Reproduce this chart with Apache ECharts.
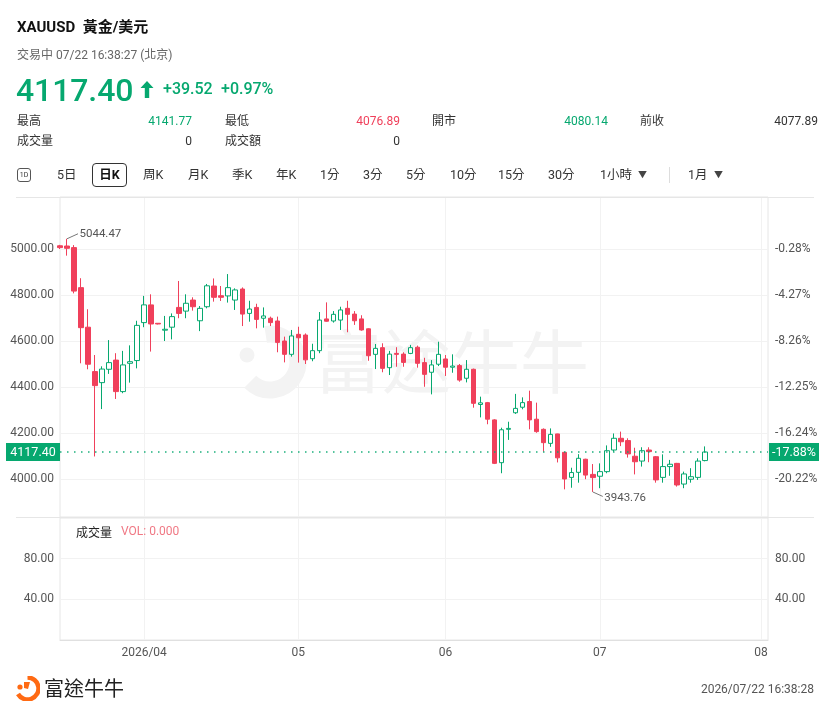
<!DOCTYPE html>
<html>
<head>
<meta charset="utf-8">
<script src="https://cdn.jsdelivr.net/npm/echarts@6/dist/echarts.min.js"></script>
<style>
html,body{margin:0;padding:0;background:#fff;}
body{width:830px;height:715px;position:relative;overflow:hidden;font-family:Roboto,"Noto Sans CJK TC",sans-serif;color:#222;}
#chart{position:absolute;left:0;top:0;width:830px;height:715px;}
.a{position:absolute;white-space:nowrap;line-height:1;}
.g{color:#06a86f;}
.r{color:#f0405b;}
.lab{font-size:12px;color:#333;}
.num{font-size:12px;}
.tab{font-size:12.5px;color:#333;top:169px;}
</style>
</head>
<body>
<div id="chart"></div>

<div class="a" style="left:17px;top:20px;font-size:15px;font-weight:700;color:#111">XAUUSD&nbsp; 黃金/美元</div>
<div class="a" style="left:17px;top:49px;font-size:12px;color:#666">交易中 07/22 16:38:27 (北京)</div>
<div class="a g" style="left:16px;top:74px;font-size:32px;font-weight:500;letter-spacing:-0.1px">4117.40</div>
<svg class="a" style="left:140px;top:81px" width="14" height="17" viewBox="0 0 14 17"><path d="M7 0 L13.5 7 L9.2 7 L9.2 17 L4.8 17 L4.8 7 L0.5 7 Z" fill="#06a86f"/></svg>
<div class="a g" style="left:163px;top:81px;font-size:16px;font-weight:500">+39.52</div>
<div class="a g" style="left:221px;top:81px;font-size:16px;font-weight:500">+0.97%</div>

<div class="a lab" style="left:17px;top:115px">最高</div>
<div class="a num g" style="right:638px;top:115px">4141.77</div>
<div class="a lab" style="left:225px;top:115px">最低</div>
<div class="a num r" style="right:430px;top:115px">4076.89</div>
<div class="a lab" style="left:432px;top:115px">開市</div>
<div class="a num g" style="right:222px;top:115px">4080.14</div>
<div class="a lab" style="left:640px;top:115px">前收</div>
<div class="a num" style="right:12px;top:115px;color:#333">4077.89</div>
<div class="a lab" style="left:17px;top:135px">成交量</div>
<div class="a num" style="right:638px;top:135px;color:#333">0</div>
<div class="a lab" style="left:225px;top:135px">成交額</div>
<div class="a num" style="right:430px;top:135px;color:#333">0</div>

<div class="a" style="left:17px;top:168px;width:12px;height:12px;border:1px solid #555;border-radius:3px;font-size:7px;line-height:12px;text-align:center;color:#333">1D</div>
<div class="a tab" style="left:57px">5日</div>
<div class="a" style="left:92px;top:163px;width:33px;height:22px;border:1px solid #333;border-radius:4px;font-size:12.5px;font-weight:700;line-height:22px;text-align:center;color:#111">日K</div>
<div class="a tab" style="left:143px">周K</div>
<div class="a tab" style="left:188px">月K</div>
<div class="a tab" style="left:232px">季K</div>
<div class="a tab" style="left:276px">年K</div>
<div class="a tab" style="left:320px">1分</div>
<div class="a tab" style="left:363px">3分</div>
<div class="a tab" style="left:406px">5分</div>
<div class="a tab" style="left:450px">10分</div>
<div class="a tab" style="left:498px">15分</div>
<div class="a tab" style="left:548px">30分</div>
<div class="a tab" style="left:600px">1小時</div>
<div class="a" style="left:638px;top:171px;font-size:9px;color:#444">▼</div>
<div class="a" style="left:669px;top:167px;width:1px;height:16px;background:#ddd"></div>
<div class="a tab" style="left:688px">1月</div>
<div class="a" style="left:714px;top:171px;font-size:9px;color:#444">▼</div>

<svg class="a" style="left:15px;top:676px" width="25" height="25" viewBox="0 0 25 25">
  <path d="M12.5 1.5 A11 11 0 1 1 3 18" fill="none" stroke="#ff6a13" stroke-width="4.5"/>
  <path d="M9 6 L15 6 L13 13 L9 12 Z" fill="#ff6a13"/>
  <circle cx="5" cy="11" r="2.6" fill="#ff6a13"/>
</svg>
<div class="a" style="left:44px;top:678px;font-size:20px;color:#222;font-family:'Noto Sans CJK TC',sans-serif">富途牛牛</div>
<div class="a" style="right:16px;top:683px;font-size:12px;color:#555">2026/07/22 16:38:28</div>

<script>
// ---------- data ----------
const categories = [
  '2026/03/16','2026/03/17','2026/03/18','2026/03/19','2026/03/20','2026/03/23','2026/03/24','2026/03/25','2026/03/26','2026/03/27','2026/03/30','2026/03/31',
  '2026/04/01','2026/04/02','2026/04/03','2026/04/06','2026/04/07','2026/04/08','2026/04/09','2026/04/10','2026/04/13','2026/04/14','2026/04/15','2026/04/16','2026/04/17','2026/04/20','2026/04/21','2026/04/22','2026/04/23','2026/04/24','2026/04/27','2026/04/28','2026/04/29','2026/04/30',
  '2026/05/01','2026/05/04','2026/05/05','2026/05/06','2026/05/07','2026/05/08','2026/05/11','2026/05/12','2026/05/13','2026/05/14','2026/05/15','2026/05/18','2026/05/19','2026/05/20','2026/05/21','2026/05/22','2026/05/25','2026/05/26','2026/05/27','2026/05/28','2026/05/29',
  '2026/06/01','2026/06/02','2026/06/03','2026/06/04','2026/06/05','2026/06/08','2026/06/09','2026/06/10','2026/06/11','2026/06/12','2026/06/15','2026/06/16','2026/06/17','2026/06/18','2026/06/19','2026/06/22','2026/06/23','2026/06/24','2026/06/25','2026/06/26','2026/06/29','2026/06/30',
  '2026/07/01','2026/07/02','2026/07/03','2026/07/06','2026/07/07','2026/07/08','2026/07/09','2026/07/10','2026/07/13','2026/07/14','2026/07/15','2026/07/16','2026/07/17','2026/07/20','2026/07/21','2026/07/22','2026/07/23','2026/07/24','2026/07/27','2026/07/28','2026/07/29','2026/07/30','2026/07/31',
  '2026/08/03','2026/08/04'
];
const opens = [
  5014,5013,5006,4832,4660,4467,4419,4477,4517,4380,4503,4515,
  4680,4757,4677,4647,4660,4746,4730,4778,4688,4749,4839,4797,4796,4778,4826,4720,4746,4699,4699,4687,4600,4542,
  4629,4626,4523,4558,4696,4687,4691,4742,4717,4696,4653,4542,4571,4484,4546,4543,4546,4573,4506,4464,4499,
  4522,4486,4493,4438,4477,4324,4332,4257,4071,4216,4288,4312,4337,4260,4216,4155,4196,4116,4007,4029,4086,4020,
  4012,4032,4126,4177,4167,4099,4078,4126,4097,4007,4054,4068,3978,3999,4007,4080.14
];
const closes = [
  5006,5003,4817,4658,4499,4406,4478,4506,4380,4496,4510,4668,
  4757,4674,4674,4651,4706,4720,4764,4749,4742,4840,4790,4790,4832,4822,4717,4739,4694,4709,4680,4594,4542,4622,
  4614,4518,4558,4691,4686,4716,4735,4716,4688,4648,4536,4568,4481,4543,4542,4507,4571,4503,4455,4496,4542,
  4486,4491,4430,4477,4329,4331,4260,4068,4214,4220,4307,4332,4257,4206,4158,4194,4092,4000,4028,4090,4017,4006,
  4032,4123,4177,4162,4109,4075,4123,4119,3996,4054,4064,3974,4022,4010,4077.89,4117.40
];
const lows = [
  5000,4971,4807,4503,4477,4098,4304,4457,4348,4373,4419,4481,
  4660,4554,4672,4600,4607,4699,4699,4732,4643,4742,4771,4774,4767,4735,4665,4684,4655,4658,4665,4551,4507,4532,
  4506,4500,4512,4547,4684,4680,4648,4638,4670,4645,4514,4478,4464,4452,4488,4488,4543,4484,4401,4368,4491,
  4448,4462,4423,4420,4310,4268,4238,4065,4025,4170,4283,4303,4216,4201,4119,4140,4072,3955,3962,3984,3999,3943.76,
  3960,4025,4119,4143,4093,4020,4054,4073,3984,3984,4014,3967,3960,3984,3996,4076.89
];
const highs = [
  5018,5044.47,5017,4873,4738,4539,4490,4604,4547,4557,4581,4688,
  4796,4803,4678,4709,4720,4861,4803,4790,4752,4848,4872,4839,4891,4829,4833,4775,4762,4746,4706,4706,4619,4648,
  4662,4633,4588,4726,4768,4730,4749,4775,4730,4712,4655,4587,4590,4557,4573,4551,4583,4580,4527,4517,4597,
  4539,4542,4500,4517,4480,4358,4335,4260,4223,4249,4370,4355,4384,4332,4220,4220,4197,4118,4049,4108,4088,4065,
  4068,4146,4198,4206,4177,4136,4138,4138,4100,4107,4083,4070,4032,4047,4090,4141.77
];
const volumes = opens.map(() => 0);
const priceTicks = [4000, 4200, 4400, 4600, 4800, 5000];
const volumeTicks = [40, 80];
const monthLabels = {'2026/04/01':'2026/04','2026/05/01':'05','2026/06/01':'06','2026/07/01':'07','2026/08/03':'08'};
const basePrice = 5014.04;
const lastPrice = 4117.40;
const highMark = {index: 1, value: 5044.47};
const lowMark = {index: 76, value: 3943.76};

// ---------- styles ----------
const GREEN = '#06a86f', RED = '#f0405b';
const GRID_LINE = '#f2f2f2', BORDER = '#e6e6e6', LABEL = '#555';

const candleData = opens.map((o, i) => [o, closes[i], lows[i], highs[i]]);
const isMonth = (idx, v) => monthLabels[v] !== undefined;
const yLabel = {color: LABEL, fontSize: 12, fontFamily: 'Roboto', padding: [3, 0, 0, 0]};

const chart = echarts.init(document.getElementById('chart'), null, {renderer: 'canvas'});
const option = {
  animation: false,
  backgroundColor: 'transparent',
  grid: [
    {left: 60, right: 62, top: 197, height: 320, show: true, borderColor: BORDER, borderWidth: 1, outerBoundsMode: 'none'},
    {left: 60, right: 62, top: 518, height: 122, show: true, borderColor: BORDER, borderWidth: 1, outerBoundsMode: 'none'}
  ],
  xAxis: [
    {type: 'category', gridIndex: 0, data: categories, boundaryGap: false,
     axisLine: {show: false}, axisTick: {show: false}, axisLabel: {show: false},
     splitLine: {show: true, interval: isMonth, lineStyle: {color: GRID_LINE, width: 1}}},
    {type: 'category', gridIndex: 1, data: categories, boundaryGap: false,
     axisLine: {show: true, lineStyle: {color: '#e0e0e0'}}, axisTick: {show: false},
     axisLabel: {show: true, interval: isMonth, formatter: v => monthLabels[v] || '', color: LABEL, fontSize: 12, margin: 7, fontFamily: 'Roboto'},
     splitLine: {show: true, interval: isMonth, lineStyle: {color: GRID_LINE, width: 1}}}
  ],
  yAxis: [
    {type: 'value', gridIndex: 0, position: 'left', min: 3834.78, max: 5226.09, scale: true,
     axisLine: {show: false}, axisTick: {show: false, customValues: priceTicks},
     axisLabel: Object.assign({customValues: priceTicks, formatter: v => v.toFixed(2), margin: 6}, yLabel),
     splitLine: {show: true, lineStyle: {color: GRID_LINE, width: 1}}},
    {type: 'value', gridIndex: 0, position: 'right', min: 3834.78, max: 5226.09, scale: true,
     axisLine: {show: false}, axisTick: {show: false, customValues: priceTicks},
     axisLabel: Object.assign({customValues: priceTicks, formatter: v => ((v / basePrice - 1) * 100).toFixed(2) + '%', margin: 7}, yLabel),
     splitLine: {show: false}},
    {type: 'value', gridIndex: 1, position: 'left', min: 0, max: 120,
     axisLine: {show: false}, axisTick: {show: false, customValues: volumeTicks},
     axisLabel: Object.assign({customValues: volumeTicks, formatter: v => v.toFixed(2), margin: 6}, yLabel),
     splitLine: {show: true, lineStyle: {color: GRID_LINE, width: 1}}},
    {type: 'value', gridIndex: 1, position: 'right', min: 0, max: 120,
     axisLine: {show: false}, axisTick: {show: false, customValues: volumeTicks},
     axisLabel: Object.assign({customValues: volumeTicks, formatter: v => v.toFixed(2), margin: 7}, yLabel),
     splitLine: {show: false}}
  ],
  series: [
    {type: 'candlestick', name: 'XAUUSD', xAxisIndex: 0, yAxisIndex: 0, data: candleData, barWidth: 5, clip: true, z: 3,
     itemStyle: {color: '#ffffff', color0: RED, borderColor: GREEN, borderColor0: RED, borderWidth: 1},
     markLine: {silent: true, symbol: ['none', 'none'], label: {show: false},
       lineStyle: {color: GREEN, type: [1.5, 5.5], width: 1.5, opacity: 0.9},
       data: [{yAxis: lastPrice}]}},
    {type: 'bar', name: 'VOL', xAxisIndex: 1, yAxisIndex: 2, data: volumes, barWidth: 5, itemStyle: {color: RED}}
  ]
};
chart.setOption(option);

// ---------- overlays positioned through the axes ----------
const pLast = chart.convertToPixel({xAxisIndex: 0, yAxisIndex: 0}, [0, lastPrice]);
const pHigh = chart.convertToPixel({xAxisIndex: 0, yAxisIndex: 0}, [highMark.index, highMark.value]);
const pLow = chart.convertToPixel({xAxisIndex: 0, yAxisIndex: 0}, [lowMark.index, lowMark.value]);
const lastPct = ((lastPrice / basePrice - 1) * 100).toFixed(2) + '%';
const WM = '#f3f3f3';

chart.setOption({
  graphic: [
    // frame lines
    {type: 'line', shape: {x1: 16, y1: 197.5, x2: 814, y2: 197.5}, style: {stroke: BORDER, lineWidth: 1}, z: 5, silent: true},
    {type: 'line', shape: {x1: 16, y1: 517.5, x2: 814, y2: 517.5}, style: {stroke: BORDER, lineWidth: 1}, z: 5, silent: true},
    // watermark
    {type: 'arc', shape: {cx: 270, cy: 362, r: 28, startAngle: -Math.PI * 0.55, endAngle: Math.PI * 0.75}, style: {stroke: WM, lineWidth: 17, fill: null}, z: 1, silent: true},
    {type: 'circle', shape: {cx: 247, cy: 355, r: 7.5}, style: {fill: WM}, z: 1, silent: true},
    {type: 'text', x: 313, y: 362, style: {text: '富途牛牛', fontSize: 69, fill: WM, fontFamily: 'Noto Sans CJK TC', verticalAlign: 'middle', align: 'left'}, z: 1, silent: true},
    // last price tags
    {type: 'rect', shape: {x: 6, y: pLast[1] - 9, width: 54, height: 18}, style: {fill: GREEN}, z: 10, silent: true},
    {type: 'text', x: 33, y: pLast[1] + 1, style: {text: lastPrice.toFixed(2), fill: '#fff', fontSize: 12.5, fontFamily: 'Roboto', align: 'center', verticalAlign: 'middle'}, z: 11, silent: true},
    {type: 'rect', shape: {x: 769, y: pLast[1] - 9, width: 50, height: 18}, style: {fill: GREEN}, z: 10, silent: true},
    {type: 'text', x: 794, y: pLast[1] + 1, style: {text: lastPct, fill: '#fff', fontSize: 12.5, fontFamily: 'Roboto', align: 'center', verticalAlign: 'middle'}, z: 11, silent: true},
    // high / low annotations
    {type: 'polyline', shape: {points: [[pHigh[0], pHigh[1]], [pHigh[0] + 11, pHigh[1] - 5]]}, style: {stroke: '#777', lineWidth: 1, fill: null}, z: 10, silent: true},
    {type: 'text', x: pHigh[0] + 12.5, y: pHigh[1] - 5, style: {text: highMark.value.toFixed(2), fill: '#555', fontSize: 11.5, fontFamily: 'Roboto', verticalAlign: 'middle'}, z: 10, silent: true},
    {type: 'polyline', shape: {points: [[pLow[0], pLow[1]], [pLow[0] + 10, pLow[1] + 4.5]]}, style: {stroke: '#777', lineWidth: 1, fill: null}, z: 10, silent: true},
    {type: 'text', x: pLow[0] + 11.5, y: pLow[1] + 6, style: {text: lowMark.value.toFixed(2), fill: '#555', fontSize: 11.5, fontFamily: 'Roboto', verticalAlign: 'middle'}, z: 10, silent: true},
    // volume legend
    {type: 'text', x: 76, y: 532, style: {text: '成交量', fill: '#222', fontSize: 12, fontFamily: 'Noto Sans CJK TC', verticalAlign: 'middle'}, z: 10, silent: true},
    {type: 'text', x: 121, y: 532, style: {text: 'VOL: ' + volumes[volumes.length - 1].toFixed(3), fill: '#f07884', fontSize: 12, fontFamily: 'Roboto', verticalAlign: 'middle'}, z: 10, silent: true}
  ]
});
</script>
</body>
</html>
